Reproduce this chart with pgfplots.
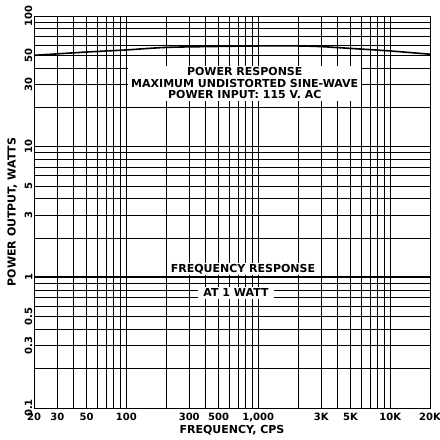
\documentclass[border=0pt]{standalone}
\usepackage{pgfplots}
\pgfplotsset{compat=1.18}
\usepackage{fontspec}
\setmainfont{DejaVu Sans}

\begin{document}
\begin{tikzpicture}
\path[use as bounding box] (-34pt,-32pt) rectangle (406pt,408pt);
\begin{axis}[
    at={(0pt,0pt)}, anchor=south west,
    scale only axis,
    width=396pt, height=392pt,
    xmode=log, ymode=log,
    xmin=20, xmax=20000,
    ymin=0.1, ymax=100,
    axis line style={line width=0.9pt},
    xtick={20,30,50,100,300,500,1000,3000,5000,10000,20000},
    xticklabels={20,30,50,100,300,500,{1,000},3K,5K,10K,20K},
    minor xtick={40,60,70,80,90,200,400,600,700,800,900,2000,4000,6000,7000,8000,9000},
    ytick={0.1,0.3,0.5,1,3,5,10,30,50,100},
    yticklabels={0.1,0.3,0.5,1,3,5,10,30,50,100},
    minor ytick={0.2,0.4,0.6,0.7,0.8,0.9,2,4,6,7,8,9,20,40,60,70,80,90},
    grid=both,
    major grid style={black,line width=0.6pt},
    minor grid style={black,line width=0.6pt},
    major tick length=0pt, minor tick length=0pt,
    /pgf/number format/assume math mode=true,
    tick label style={font=\bfseries\fontsize{10}{11}\selectfont},
    yticklabel style={rotate=90,anchor=south,inner sep=1.5pt},
    xticklabel style={inner sep=1.5pt,yshift=-3pt,text height=7.5pt,text depth=0pt},
    xlabel={FREQUENCY, CPS},
    ylabel={POWER OUTPUT, WATTS},
    label style={font=\bfseries\fontsize{11}{12}\selectfont},
    xlabel style={at={(axis description cs:0.5,-0.057)},anchor=center},
    ylabel style={at={(axis description cs:-0.055,0.5)},anchor=center},
]
% power response: maximum undistorted sine-wave output
\addplot[black, line width=1.6pt, smooth] coordinates {
    (20,50) (50,53) (100,55) (200,57.5) (500,58.5) (1000,59) (2000,59)
    (3000,58.3) (5000,56.5) (10000,54) (20000,51)
};
% frequency response at 1 watt
\addplot[black, line width=1.8pt] coordinates {
    (20,1) (100,1) (1000,1) (10000,1) (20000,1)
};
\node[fill=white, align=center, inner xsep=3pt, inner ysep=2pt,
      font=\bfseries\fontsize{11}{11.5}\selectfont]
    at (axis cs:790,30.5)
    {POWER RESPONSE\\MAXIMUM UNDISTORTED SINE-WAVE\\POWER INPUT: 115 V. AC};
\node[fill=white, inner xsep=2pt, inner ysep=1pt, anchor=south,
      font=\bfseries\fontsize{11}{11}\selectfont]
    at (axis cs:766,1.035) {FREQUENCY RESPONSE};
\node[fill=white, inner xsep=5pt, inner ysep=2pt,
      font=\bfseries\fontsize{11}{11}\selectfont]
    at (axis cs:678,0.765) {AT 1 WATT};
\end{axis}
\end{tikzpicture}
\end{document}
